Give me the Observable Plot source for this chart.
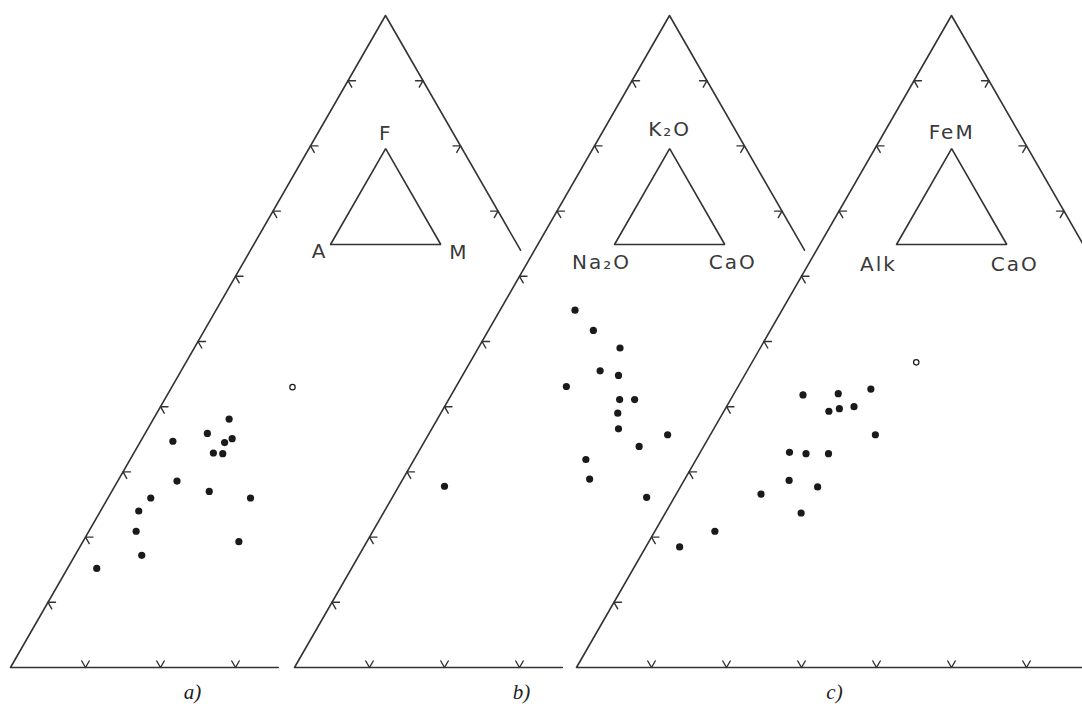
<!DOCTYPE html>
<html><head><meta charset="utf-8">
<script src="https://cdn.jsdelivr.net/npm/d3@7"></script>
<script src="https://cdn.jsdelivr.net/npm/@observablehq/plot@0.6"></script>
<style>
html,body{margin:0;padding:0;background:#fff;overflow:hidden}
g[font-family="DejaVu Sans"] text{letter-spacing:2px}
</style>
</head><body><div id="chart"></div>
<script>
// ---------- DATA ----------
const panelNames = ["a)", "b)", "c)"];
const apexLabels = ["F", "K₂O", "FeM"];
const leftLabels = ["A", "Na₂O", "Alk"];
const rightLabels = ["M", "CaO", "CaO"];

// compositions in percent: top (apex) component and right component; left = 100 - top - right
const aTop   = [38.1, 35.9, 34.7, 35.1, 34.5, 32.9, 32.8, 28.6, 27.0, 26.0, 26.0, 24.0, 20.9, 19.3, 17.2, 15.2];
const aRight = [10.1,  8.3,  4.3, 12.0, 11.3, 10.6, 11.9,  7.9, 13.0, 19.0,  5.7,  5.1,  6.3, 20.8,  8.9,  3.9];
const aOpenTop = [43.0], aOpenRight = [16.1];

const bTop   = [54.8, 51.7, 49.0, 45.5, 44.8, 43.1, 41.1, 41.1, 39.0, 36.6, 35.7, 33.9, 31.9, 28.9, 26.1, 27.8];
const bRight = [10.0, 14.0, 18.9, 18.0, 20.8, 14.7, 22.8, 24.8, 23.6, 24.9, 31.9, 29.0, 22.9, 24.9, 33.9,  6.1];
const bOpenTop = [], bOpenRight = [];

const cTop   = [41.8, 42.0, 42.7, 39.3, 39.7, 40.0, 35.7, 33.0, 32.8, 32.8, 28.7, 27.7, 26.6, 23.7, 20.9, 18.5];
const cRight = [ 9.3, 13.9, 17.9, 14.0, 15.2, 17.0, 22.0, 11.9, 14.2, 17.2, 14.0, 18.3, 11.3, 18.1,  8.0,  4.5];
const cOpenTop = [46.8], cOpenRight = [21.9];

// tick values (percent) on each side
const leftTicks  = [10, 20, 30, 40, 50, 60, 70, 80, 90];
const rightTicks = [70, 80, 90];
const baseTicks  = [[10, 20, 30], [10, 20, 30], [10, 20, 30, 40, 50, 60, 70, 80, 90]];

// ---------- LAYOUT ----------
const pxX = 750, pxY = 652;                    // pixels per unit
const offsets = [0, 284 / 750, 566 / 750];     // panel origin shifts (side units)
const baseEnd = [35.7, 35.7, 100];             // how far the base is drawn (%)
const rightEndTop = 64;                        // right side drawn down to this level (%)
const armLen = 1.0;                            // tick arm (%)
const legendOrigin = [0.4267, 0.6488], legendSize = 0.147;
const apexDy = [-9, -13, -10];
const leftDx = [-11, -13, -18], leftDy = [14, 25, 27];
const rightDx = [18, 8, 8], rightDy = [15, 25, 27];
const nameX = [0.2427, 0.3027, 0.344], nameY = -0.049;

const sets = [[aTop, aRight, aOpenTop, aOpenRight], [bTop, bRight, bOpenTop, bOpenRight], [cTop, cRight, cOpenTop, cOpenRight]];

// ternary (top %, right %) -> plot coordinates for panel p
const T = (p, top, right) => ({x: offsets[p] + right / 100 + top / 200, y: top / 100});
const shift = (pt, dx, dy) => ({x: pt.x + dx / pxX, y: pt.y - dy / pxY});

const outline = [], ticks = [], legend = [], filled = [], open = [], labels = [], names = [];
let id = 0;
for (let p = 0; p < 3; p++) {
  [[0, baseEnd[p]], [0, 0], [100, 0], [rightEndTop, 100 - rightEndTop]].forEach(([t, r]) => outline.push({...T(p, t, r), id: "o" + p}));
  for (const t of leftTicks) {
    id++;
    [[t, armLen], [t, 0], [t - armLen, armLen]].forEach(([a, b]) => ticks.push({...T(p, a, b), id}));
  }
  for (const t of rightTicks) {
    id++;
    [[t, 100 - t - armLen], [t, 100 - t], [t - armLen, 100 - t]].forEach(([a, b]) => ticks.push({...T(p, a, b), id}));
  }
  for (const t of baseTicks[p]) {
    id++;
    [[armLen, t - armLen], [0, t], [armLen, t]].forEach(([a, b]) => ticks.push({...T(p, a, b), id}));
  }
  const L = (t, r) => ({x: offsets[p] + legendOrigin[0] + legendSize * (r / 100 + t / 200), y: legendOrigin[1] + legendSize * t / 100});
  [[0, 0], [100, 0], [0, 100], [0, 0]].forEach(([t, r]) => legend.push({...L(t, r), id: "l" + p}));
  labels.push({...shift(L(100, 0), 0, apexDy[p]), text: apexLabels[p]});
  labels.push({...shift(L(0, 0), leftDx[p], leftDy[p]), text: leftLabels[p]});
  labels.push({...shift(L(0, 100), rightDx[p], rightDy[p]), text: rightLabels[p]});
  names.push({x: offsets[p] + nameX[p], y: nameY, text: panelNames[p]});
  const [tp, rt, ot, orr] = sets[p];
  tp.forEach((t, i) => filled.push(T(p, t, rt[i])));
  ot.forEach((t, i) => open.push(T(p, t, orr[i])));
}

const ink = "#333";
const chart = Plot.plot({
  width: 1082, height: 709,
  marginLeft: 0, marginRight: 0, marginTop: 0, marginBottom: 0,
  x: {domain: [-10 / pxX, 1072 / pxX], axis: null},
  y: {domain: [-42 / pxY, 667 / pxY], axis: null},
  style: {background: "#fff"},
  marks: [
    Plot.line(outline, {x: "x", y: "y", z: "id", stroke: ink, strokeWidth: 1.6}),
    Plot.line(ticks, {x: "x", y: "y", z: "id", stroke: ink, strokeWidth: 1.4}),
    Plot.line(legend, {x: "x", y: "y", z: "id", stroke: ink, strokeWidth: 1.6, strokeLinejoin: "miter"}),
    Plot.dot(filled, {x: "x", y: "y", r: 3.6, fill: "#1a1a1a", stroke: "none"}),
    Plot.dot(open, {x: "x", y: "y", r: 2.7, fill: "#fff", stroke: "#1a1a1a", strokeWidth: 1.2}),
    Plot.text(labels, {x: "x", y: "y", text: "text", lineAnchor: "bottom", textAnchor: "middle",
      fontSize: 20, fontFamily: "DejaVu Sans", fill: "#3a3a3a"}),
    Plot.text(names, {x: "x", y: "y", text: "text", lineAnchor: "bottom", textAnchor: "middle",
      fontSize: 21, fontFamily: "Liberation Serif", fontStyle: "italic", fill: "#222"})
  ]
});
document.getElementById("chart").appendChild(chart);
</script></body></html>
